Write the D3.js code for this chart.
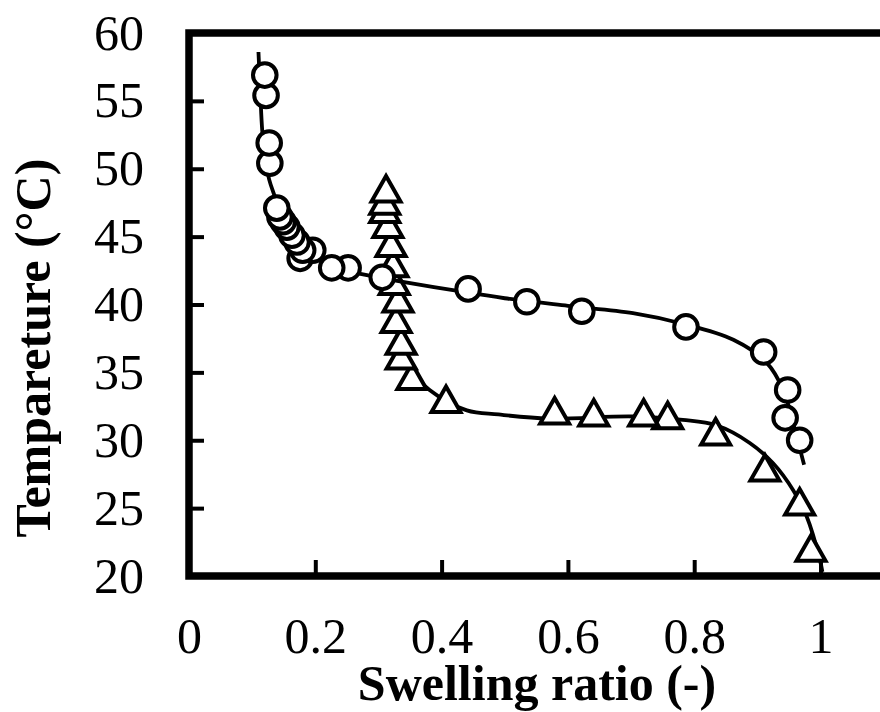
<!DOCTYPE html>
<html>
<head>
<meta charset="utf-8">
<script src="https://cdn.jsdelivr.net/npm/d3@7"></script>
<style>
  body { margin: 0; background: #fff; }
  text { font-family: "Liberation Serif", "Times New Roman", serif; fill: #000; }
</style>
</head>
<body>
<svg id="chart"></svg>
<script>
// measured points, ascending temperature
const circleX = [0.967, 0.944, 0.948, 0.910, 0.787, 0.622, 0.535, 0.442, 0.306, 0.252, 0.226, 0.176,
                 0.196, 0.180, 0.171, 0.163, 0.155, 0.149, 0.144, 0.139, 0.128, 0.127, 0.122, 0.120];
const circleT = [30.0, 31.65, 33.7, 36.5, 38.35, 39.5, 40.2, 41.15, 42.0, 42.7, 42.7, 43.4,
                 44.0, 44.0, 44.6, 45.1, 45.7, 46.1, 46.45, 47.1, 50.4, 51.9, 55.4, 56.9];

const triX = [0.985, 0.967, 0.912, 0.834, 0.758, 0.720, 0.641, 0.579, 0.407, 0.353, 0.336,
              0.336, 0.328, 0.331, 0.325, 0.323, 0.320, 0.315, 0.310, 0.310, 0.312];
const triT = [22.05, 25.45, 27.95, 30.6, 31.8, 32.0, 32.0, 32.15, 33.0, 34.7, 36.2,
              37.3, 38.9, 40.4, 41.7, 43.0, 44.5, 45.9, 47.0, 47.6, 48.5];

// fitted curves
const circleFitX = [0.110, 0.113, 0.116, 0.121, 0.127, 0.134, 0.145, 0.160, 0.180, 0.210, 0.250,
                    0.300, 0.334, 0.418, 0.500, 0.600, 0.703, 0.780, 0.862, 0.915, 0.941, 0.962, 0.974];
const circleFitT = [58.6, 55.5, 52.8, 50.6, 49.2, 48.2, 46.8, 45.5, 44.3, 43.2, 42.5,
                    42.0, 41.7, 41.05, 40.46, 39.9, 39.36, 38.6, 37.4, 35.7, 33.7, 30.3, 28.2];

const triFitX = [0.310, 0.315, 0.322, 0.330, 0.340, 0.355, 0.381, 0.440, 0.490, 0.570, 0.703,
                 0.782, 0.835, 0.888, 0.925, 0.957, 0.978, 0.999, 1.003];
const triFitT = [48.5, 45.0, 41.5, 38.5, 36.5, 35.0, 33.7, 32.2, 31.9, 31.6, 31.75,
                 31.5, 31.1, 29.8, 28.3, 26.3, 24.4, 21.2, 20.3];

const xTicks = [0, 0.2, 0.4, 0.6, 0.8, 1];
const yTicks = [20, 25, 30, 35, 40, 45, 50, 55, 60];

const w = 880;
const h = 712;
const padLeft = 189, padTop = 33, padBottom = 576;

const svg = d3.select("#chart")
    .attr("width", w)
    .attr("height", h);

svg.append("rect").attr("width", w).attr("height", h).attr("fill", "#fff");

// axis runs on past the right edge of the picture (cropped box)
const xScale = d3.scaleLinear()
    .domain([0, 1.2])
    .range([padLeft, padLeft + 1.2 * 631.5]);

const yScale = d3.scaleLinear()
    .domain([20, 60])
    .range([padBottom, padTop]);

// axes (ticks inside)
const xAxis = d3.axisBottom(xScale)
    .tickValues(xTicks)
    .tickFormat(d3.format(""))
    .tickSize(-16)
    .tickSizeOuter(0)
    .tickPadding(41);

const gx = svg.append("g")
    .attr("transform", `translate(0,${padBottom})`)
    .call(xAxis);

const yAxis = d3.axisLeft(yScale)
    .tickValues(yTicks)
    .tickSize(-15)
    .tickSizeOuter(0)
    .tickPadding(45);

const gy = svg.append("g")
    .attr("transform", `translate(${padLeft},0)`)
    .call(yAxis);

[gx, gy].forEach(g => {
    g.select(".domain").remove();
    g.selectAll("line").attr("stroke", "#000").attr("stroke-width", 4);
    g.selectAll("text")
        .style("font-family", '"Liberation Serif", serif')
        .style("font-size", "50px")
        .attr("fill", "#000");
});

// frame
svg.append("rect")
    .attr("x", padLeft)
    .attr("y", padTop)
    .attr("width", xScale(1.2) - padLeft)
    .attr("height", padBottom - padTop)
    .attr("fill", "none")
    .attr("stroke", "#000")
    .attr("stroke-width", 7.5);

const line = d3.line()
    .x(d => xScale(d[0]))
    .y(d => yScale(d[1]))
    .curve(d3.curveCatmullRom);

const triFit = triFitX.map((x, i) => [x, triFitT[i]]);
const circleFit = circleFitX.map((x, i) => [x, circleFitT[i]]);
const tris = triX.map((x, i) => [x, triT[i]]);
const circles = circleX.map((x, i) => [x, circleT[i]]);

svg.append("path")
    .attr("d", line(triFit))
    .attr("fill", "none")
    .attr("stroke", "#000")
    .attr("stroke-width", 3.8);

svg.selectAll("path.tri")
    .data(tris)
    .enter()
    .append("path")
    .attr("class", "tri")
    .attr("d", "M0,-13L14.5,12.5L-14.5,12.5Z")
    .attr("transform", d => `translate(${xScale(d[0])},${yScale(d[1])})`)
    .attr("fill", "#fff")
    .attr("stroke", "#000")
    .attr("stroke-width", 4)
    .attr("stroke-linejoin", "miter");

svg.append("path")
    .attr("d", line(circleFit))
    .attr("fill", "none")
    .attr("stroke", "#000")
    .attr("stroke-width", 3.8);

svg.selectAll("circle.pt")
    .data(circles)
    .enter()
    .append("circle")
    .attr("class", "pt")
    .attr("cx", d => xScale(d[0]))
    .attr("cy", d => yScale(d[1]))
    .attr("r", 11.8)
    .attr("fill", "#fff")
    .attr("stroke", "#000")
    .attr("stroke-width", 4);

// axis titles
svg.append("text")
    .attr("x", 537)
    .attr("y", 700)
    .attr("text-anchor", "middle")
    .attr("font-weight", 700)
    .style("font-size", "50px")
    .text("Swelling ratio (-)");

svg.append("text")
    .attr("transform", "translate(50,348) rotate(-90)")
    .attr("text-anchor", "middle")
    .attr("font-weight", 700)
    .style("font-size", "50px")
    .text("Tempareture (°C)");
</script>
</body>
</html>
